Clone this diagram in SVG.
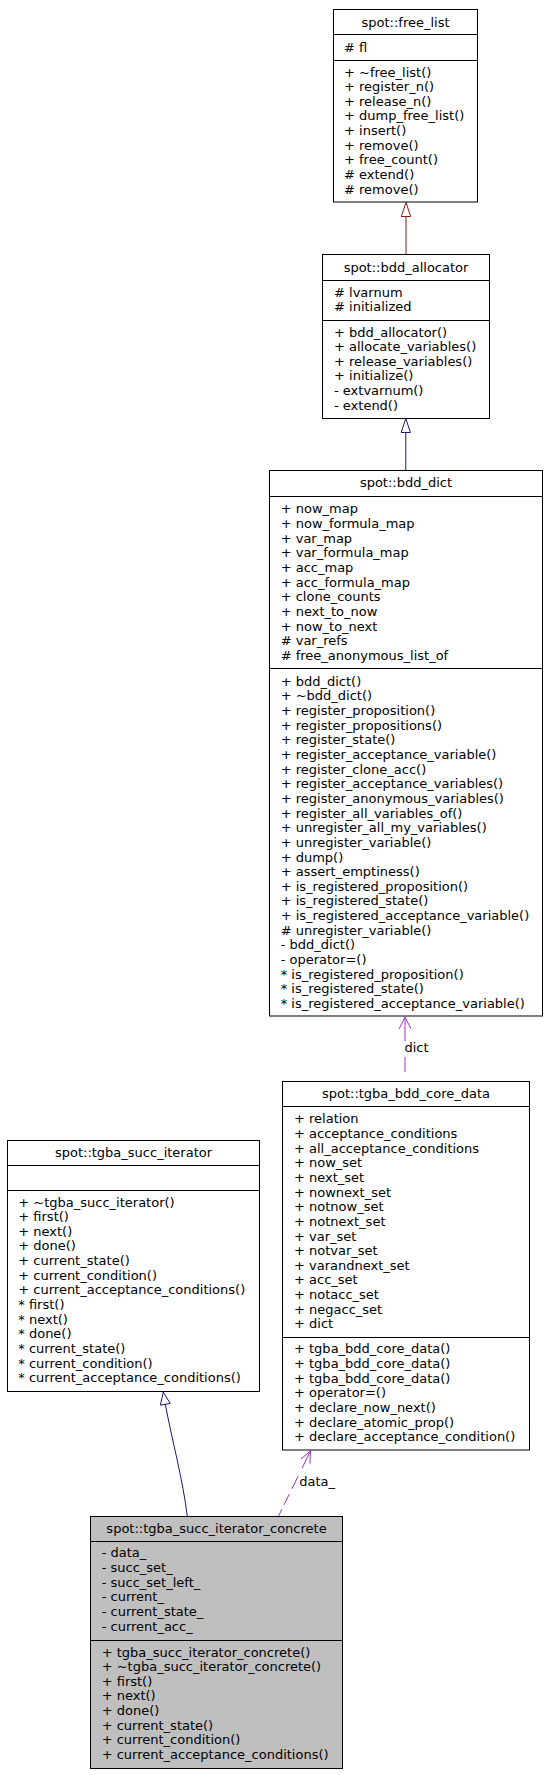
<svg xmlns="http://www.w3.org/2000/svg" width="548" height="1775" viewBox="0 0 548 1775">
<style>
text{font-family:"DejaVu Sans","Liberation Sans",sans-serif;font-size:13px;fill:#000}
.t{text-anchor:middle}
.box{fill:#fff;stroke:#000;stroke-width:1}
.cur{fill:#bfbfbf;stroke:#000;stroke-width:1}
.sep{stroke:#000;stroke-width:1}
.priv{stroke:#8b1a1a;fill:none}
.pub{stroke:#191970;fill:none}
.use{stroke:#9a32cd;fill:none}
.usehead{stroke:#9a32cd;fill:none}
</style>
<rect width="548" height="1775" fill="#fff"/>
<g id="edges">
  <line class="priv" x1="406" y1="254.5" x2="406" y2="216.5"/>
  <polygon class="priv" points="406,202.5 401.3,216.5 410.7,216.5" style="fill:#fff"/>
  <line class="pub" x1="405.8" y1="470.5" x2="405.8" y2="432.5"/>
  <polygon class="pub" points="405.8,418.5 401.2,432.5 410.4,432.5" style="fill:#fff"/>
  <line class="use" x1="405" y1="1017" x2="405" y2="1081.5" stroke-dasharray="24,16,15,10"/>
  <polyline class="usehead" points="399,1029 405,1017 411,1029"/>
  <path class="pub" d="M187.3,1516.5 C183,1480 172,1440 165.3,1404.3"/>
  <polygon class="pub" points="163.3,1392 170.2,1403.5 160.4,1405.1" style="fill:#fff"/>
  <line class="use" x1="310.5" y1="1451" x2="278.3" y2="1516.5" stroke-dasharray="19,9,14,6,12,5"/>
  <polyline class="usehead" points="300.9,1459.1 310.5,1451 309.9,1463.5"/>
  <text x="404.5" y="1051.7">dict</text>
  <text x="299.3" y="1485.5">data_</text>
</g>
<g id="free_list">
  <rect class="box" x="333.5" y="9.5" width="144" height="192.5"/>
  <line class="sep" x1="333.5" y1="34.5" x2="477.5" y2="34.5"/>
  <line class="sep" x1="333.5" y1="60.5" x2="477.5" y2="60.5"/>
  <text class="t" x="405.5" y="26.5">spot::free_list</text>
  <text x="344" y="51.5"># fl</text>
  <text x="344" y="76.5">+ ~free_list()<tspan x="344" dy="14.65">+ register_n()</tspan><tspan x="344" dy="14.65">+ release_n()</tspan><tspan x="344" dy="14.65">+ dump_free_list()</tspan><tspan x="344" dy="14.65">+ insert()</tspan><tspan x="344" dy="14.65">+ remove()</tspan><tspan x="344" dy="14.65">+ free_count()</tspan><tspan x="344" dy="14.65"># extend()</tspan><tspan x="344" dy="14.65"># remove()</tspan></text>
</g>
<g id="bdd_allocator">
  <rect class="box" x="322.5" y="254.5" width="167" height="164"/>
  <line class="sep" x1="322.5" y1="280.5" x2="489.5" y2="280.5"/>
  <line class="sep" x1="322.5" y1="320.5" x2="489.5" y2="320.5"/>
  <text class="t" x="406" y="271.5">spot::bdd_allocator</text>
  <text x="334" y="296.5"># lvarnum<tspan x="334" dy="14.65"># initialized</tspan></text>
  <text x="334" y="336.5">+ bdd_allocator()<tspan x="334" dy="14.65">+ allocate_variables()</tspan><tspan x="334" dy="14.65">+ release_variables()</tspan><tspan x="334" dy="14.65">+ initialize()</tspan><tspan x="334" dy="14.65">- extvarnum()</tspan><tspan x="334" dy="14.65">- extend()</tspan></text>
</g>
<g id="bdd_dict">
  <rect class="box" x="269.5" y="470.5" width="273" height="545.5"/>
  <line class="sep" x1="269.5" y1="496.5" x2="542.5" y2="496.5"/>
  <line class="sep" x1="269.5" y1="668.5" x2="542.5" y2="668.5"/>
  <text class="t" x="406" y="487">spot::bdd_dict</text>
  <text x="280.7" y="513.3">+ now_map<tspan x="280.7" dy="14.65">+ now_formula_map</tspan><tspan x="280.7" dy="14.65">+ var_map</tspan><tspan x="280.7" dy="14.65">+ var_formula_map</tspan><tspan x="280.7" dy="14.65">+ acc_map</tspan><tspan x="280.7" dy="14.65">+ acc_formula_map</tspan><tspan x="280.7" dy="14.65">+ clone_counts</tspan><tspan x="280.7" dy="14.65">+ next_to_now</tspan><tspan x="280.7" dy="14.65">+ now_to_next</tspan><tspan x="280.7" dy="14.65"># var_refs</tspan><tspan x="280.7" dy="14.65"># free_anonymous_list_of</tspan></text>
  <text x="280.7" y="685.7">+ bdd_dict()<tspan x="280.7" dy="14.65">+ ~bdd_dict()</tspan><tspan x="280.7" dy="14.65">+ register_proposition()</tspan><tspan x="280.7" dy="14.65">+ register_propositions()</tspan><tspan x="280.7" dy="14.65">+ register_state()</tspan><tspan x="280.7" dy="14.65">+ register_acceptance_variable()</tspan><tspan x="280.7" dy="14.65">+ register_clone_acc()</tspan><tspan x="280.7" dy="14.65">+ register_acceptance_variables()</tspan><tspan x="280.7" dy="14.65">+ register_anonymous_variables()</tspan><tspan x="280.7" dy="14.65">+ register_all_variables_of()</tspan><tspan x="280.7" dy="14.65">+ unregister_all_my_variables()</tspan><tspan x="280.7" dy="14.65">+ unregister_variable()</tspan><tspan x="280.7" dy="14.65">+ dump()</tspan><tspan x="280.7" dy="14.65">+ assert_emptiness()</tspan><tspan x="280.7" dy="14.65">+ is_registered_proposition()</tspan><tspan x="280.7" dy="14.65">+ is_registered_state()</tspan><tspan x="280.7" dy="14.65">+ is_registered_acceptance_variable()</tspan><tspan x="280.7" dy="14.65"># unregister_variable()</tspan><tspan x="280.7" dy="14.65">- bdd_dict()</tspan><tspan x="280.7" dy="14.65">- operator=()</tspan><tspan x="280.7" dy="14.65">* is_registered_proposition()</tspan><tspan x="280.7" dy="14.65">* is_registered_state()</tspan><tspan x="280.7" dy="14.65">* is_registered_acceptance_variable()</tspan></text>
</g>
<g id="tgba_bdd_core_data">
  <rect class="box" x="282.5" y="1081.5" width="247" height="368.5"/>
  <line class="sep" x1="282.5" y1="1106.5" x2="529.5" y2="1106.5"/>
  <line class="sep" x1="282.5" y1="1337.5" x2="529.5" y2="1337.5"/>
  <text class="t" x="406" y="1097.5">spot::tgba_bdd_core_data</text>
  <text x="294" y="1123.3">+ relation<tspan x="294" dy="14.65">+ acceptance_conditions</tspan><tspan x="294" dy="14.65">+ all_acceptance_conditions</tspan><tspan x="294" dy="14.65">+ now_set</tspan><tspan x="294" dy="14.65">+ next_set</tspan><tspan x="294" dy="14.65">+ nownext_set</tspan><tspan x="294" dy="14.65">+ notnow_set</tspan><tspan x="294" dy="14.65">+ notnext_set</tspan><tspan x="294" dy="14.65">+ var_set</tspan><tspan x="294" dy="14.65">+ notvar_set</tspan><tspan x="294" dy="14.65">+ varandnext_set</tspan><tspan x="294" dy="14.65">+ acc_set</tspan><tspan x="294" dy="14.65">+ notacc_set</tspan><tspan x="294" dy="14.65">+ negacc_set</tspan><tspan x="294" dy="14.65">+ dict</tspan></text>
  <text x="294" y="1353.3">+ tgba_bdd_core_data()<tspan x="294" dy="14.65">+ tgba_bdd_core_data()</tspan><tspan x="294" dy="14.65">+ tgba_bdd_core_data()</tspan><tspan x="294" dy="14.65">+ operator=()</tspan><tspan x="294" dy="14.65">+ declare_now_next()</tspan><tspan x="294" dy="14.65">+ declare_atomic_prop()</tspan><tspan x="294" dy="14.65">+ declare_acceptance_condition()</tspan></text>
</g>
<g id="tgba_succ_iterator">
  <rect class="box" x="7.5" y="1140.5" width="252" height="251"/>
  <line class="sep" x1="7.5" y1="1165.5" x2="259.5" y2="1165.5"/>
  <line class="sep" x1="7.5" y1="1190.5" x2="259.5" y2="1190.5"/>
  <text class="t" x="133.5" y="1157">spot::tgba_succ_iterator</text>
  <text x="18.3" y="1206.5">+ ~tgba_succ_iterator()<tspan x="18.3" dy="14.65">+ first()</tspan><tspan x="18.3" dy="14.65">+ next()</tspan><tspan x="18.3" dy="14.65">+ done()</tspan><tspan x="18.3" dy="14.65">+ current_state()</tspan><tspan x="18.3" dy="14.65">+ current_condition()</tspan><tspan x="18.3" dy="14.65">+ current_acceptance_conditions()</tspan><tspan x="18.3" dy="14.65">* first()</tspan><tspan x="18.3" dy="14.65">* next()</tspan><tspan x="18.3" dy="14.65">* done()</tspan><tspan x="18.3" dy="14.65">* current_state()</tspan><tspan x="18.3" dy="14.65">* current_condition()</tspan><tspan x="18.3" dy="14.65">* current_acceptance_conditions()</tspan></text>
</g>
<g id="tgba_succ_iterator_concrete">
  <rect class="cur" x="90.5" y="1516.5" width="252" height="252"/>
  <line class="sep" x1="90.5" y1="1541.5" x2="342.5" y2="1541.5"/>
  <line class="sep" x1="90.5" y1="1640.5" x2="342.5" y2="1640.5"/>
  <text class="t" x="216.5" y="1532.5">spot::tgba_succ_iterator_concrete</text>
  <text x="101.7" y="1557.3">- data_<tspan x="101.7" dy="14.65">- succ_set_</tspan><tspan x="101.7" dy="14.65">- succ_set_left_</tspan><tspan x="101.7" dy="14.65">- current_</tspan><tspan x="101.7" dy="14.65">- current_state_</tspan><tspan x="101.7" dy="14.65">- current_acc_</tspan></text>
  <text x="101.7" y="1656.5">+ tgba_succ_iterator_concrete()<tspan x="101.7" dy="14.65">+ ~tgba_succ_iterator_concrete()</tspan><tspan x="101.7" dy="14.65">+ first()</tspan><tspan x="101.7" dy="14.65">+ next()</tspan><tspan x="101.7" dy="14.65">+ done()</tspan><tspan x="101.7" dy="14.65">+ current_state()</tspan><tspan x="101.7" dy="14.65">+ current_condition()</tspan><tspan x="101.7" dy="14.65">+ current_acceptance_conditions()</tspan></text>
</g>
</svg>
